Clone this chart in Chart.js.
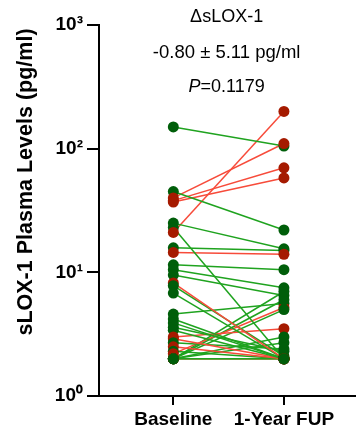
<!DOCTYPE html>
<html>
<head>
<meta charset="utf-8">
<script src="https://cdn.jsdelivr.net/npm/chart.js@4.4.1/dist/chart.umd.min.js"></script>
<style>
  body { margin: 0; background: #fff; }
  #wrap { position: relative; width: 360px; height: 438px; }
</style>
</head>
<body>
<div id="wrap"><canvas id="myChart"></canvas></div>
<script>
const categories = ["Baseline", "1-Year FUP"];
const yTickValues = [1, 10, 100, 1000];
const yTickLabels = ["10\u2070", "10\u00b9", "10\u00b2", "10\u00b3"];
const yTitle = "sLOX-1 Plasma Levels (pg/ml)";
const noteLines = ["\u0394sLOX-1", "-0.80 \u00b1 5.11 pg/ml", "=0.1179"];

// one entry per patient: baseline value, 1-year value, colour group
const baseline = [150, 45, 40, 38, 37, 25, 23, 21, 15.8, 14.5, 11.5, 10.5, 9.5, 8.2, 7.8, 6.8,
  4.6, 4.2, 3.9, 3.6, 3.4, 3.0, 2.9, 2.7, 2.5, 2.3, 2.2, 2.0, 2.0, 2.0, 2.0, 2.0, 2.0, 2.0, 2.0];
const followUp = [105, 22, 110, 70, 58, 15.5, 2.0, 200, 15, 14, 10.5, 7.5, 6.5, 2.0, 2.1, 2.0,
  5.6, 2.0, 2.0, 2.3, 2.0, 3.5, 2.0, 2.4, 2.0, 2.0, 5.2, 5.0, 6.0, 7.0, 2.7, 2.0, 3.0, 2.0, 2.0];
const group = ["g", "g", "r", "r", "r", "g", "g", "r", "g", "r", "g", "g", "g", "r", "g", "g",
  "g", "g", "g", "g", "g", "r", "r", "g", "r", "g", "r", "g", "g", "g", "g", "g", "g", "r", "g"];

const lineColors = { g: "#1fa31f", r: "#f74b3a" };
const dotColors = { g: "#005e0a", r: "#a51a00" };

let datasets = [];
baseline.forEach((b, i) => {
  datasets.push({
    data: [{ x: 0, y: b }, { x: 1, y: followUp[i] }],
    showLine: true,
    borderColor: lineColors[group[i]],
    borderWidth: 1.5,
    pointRadius: 0,
    order: 1,
  });
});

let dots = [];
let dotFill = [];
baseline.forEach((b, i) => {
  dots.push({ x: 0, y: b });
  dotFill.push(dotColors[group[i]]);
  dots.push({ x: 1, y: followUp[i] });
  dotFill.push(dotColors[group[i]]);
});
datasets.push({
  data: dots,
  pointRadius: 5.5,
  pointBackgroundColor: dotFill,
  pointBorderWidth: 0,
  order: 0,
});

const extraText = {
  id: "extraText",
  afterDraw(chart) {
    const ctx = chart.ctx;
    const x = chart.scales.x;
    const cx = (x.getPixelForValue(0) + x.getPixelForValue(1)) / 2 - 2;
    ctx.save();
    ctx.fillStyle = "#000";
    ctx.textBaseline = "middle";
    ctx.textAlign = "center";
    ctx.font = "18px 'Liberation Sans', Arial, sans-serif";
    ctx.fillText(noteLines[0], cx, 17);
    ctx.font = "18.5px 'Liberation Sans', Arial, sans-serif";
    ctx.fillText(noteLines[1], cx, 53);
    // P in italics followed by the value
    ctx.font = "italic 18px 'Liberation Sans', Arial, sans-serif";
    const pw = ctx.measureText("P").width;
    ctx.font = "18px 'Liberation Sans', Arial, sans-serif";
    const vw = ctx.measureText(noteLines[2]).width;
    const start = cx - (pw + vw) / 2;
    ctx.textAlign = "left";
    ctx.font = "italic 18px 'Liberation Sans', Arial, sans-serif";
    ctx.fillText("P", start, 87);
    ctx.font = "18px 'Liberation Sans', Arial, sans-serif";
    ctx.fillText(noteLines[2], start + pw, 87);

    ctx.translate(26, 182);
    ctx.rotate(-Math.PI / 2);
    ctx.textAlign = "center";
    ctx.font = "bold 21.5px 'Liberation Sans', Arial, sans-serif";
    ctx.fillText(yTitle, 0, 0);
    ctx.restore();
  },
};

const ctx = document.getElementById("myChart");
new Chart(ctx, {
  type: "scatter",
  data: { datasets: datasets },
  plugins: [extraText],
  options: {
    responsive: true,
    maintainAspectRatio: false,
    animation: false,
    layout: { padding: { top: 25, left: 0, right: 0, bottom: 0 } },
    plugins: {
      legend: { display: false },
      tooltip: { enabled: false },
    },
    scales: {
      x: {
        type: "linear",
        min: -0.672,
        max: 1.638,
        afterBuildTicks: (scale) => {
          scale.ticks = [{ value: 0 }, { value: 1 }];
        },
        afterFit: (scale) => {
          scale.height = 42;
        },
        border: { display: true, color: "#000", width: 2 },
        grid: {
          drawOnChartArea: false,
          drawTicks: true,
          tickLength: 9,
          color: "#000",
          lineWidth: 2,
        },
        ticks: {
          padding: 3,
          color: "#000",
          font: { family: "'Liberation Sans', Arial, sans-serif", size: 19, weight: "bold" },
          callback: (v) => categories[v],
        },
      },
      y: {
        type: "logarithmic",
        min: 1,
        max: 1000,
        afterBuildTicks: (scale) => {
          scale.ticks = yTickValues.map((v) => ({ value: v }));
        },
        afterFit: (scale) => {
          scale.width = 99;
        },
        border: { display: true, color: "#000", width: 2 },
        grid: {
          drawOnChartArea: false,
          drawTicks: true,
          tickLength: 12,
          color: "#000",
          lineWidth: 2,
        },
        ticks: {
          padding: 4,
          color: "#000",
          font: { family: "'Liberation Sans', Arial, sans-serif", size: 19, weight: "bold" },
          callback: (v) => yTickLabels[yTickValues.indexOf(v)],
        },
      },
    },
  },
});
</script>
</body>
</html>
